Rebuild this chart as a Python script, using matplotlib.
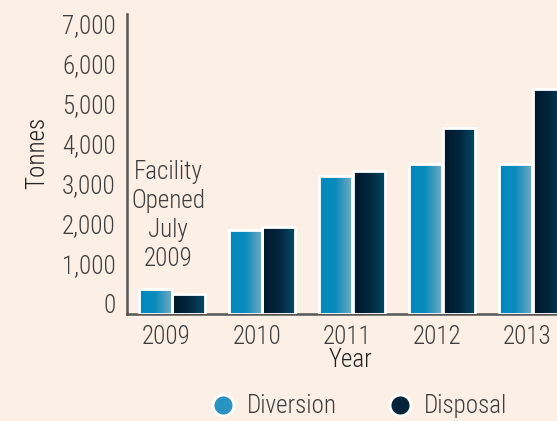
import numpy as np
import matplotlib
matplotlib.use('Agg')
import matplotlib.pyplot as plt
from matplotlib.lines import Line2D

# data
years = ['2009', '2010', '2011', '2012', '2013']
diversion = [350, 1840, 3200, 3480, 3500]
disposal = [230, 1910, 3320, 4400, 5370]
y_ticks = [0, 1000, 2000, 3000, 4000, 5000, 6000, 7000]
series = ['Diversion', 'Disposal']

bg = '#fcefe6'
txt = '#3d3d3d'
plt.rcParams['font.family'] = ['Roboto Condensed', 'DejaVu Sans']
plt.rcParams['font.weight'] = 'light'

fig = plt.figure(figsize=(5.57, 4.21), dpi=100, facecolor=bg)
ax = fig.add_axes([0.228, 0.254, 0.889, 0.713], facecolor=bg)

ymin, ymax = -268, 7250
x = np.arange(len(years))
w = 0.36

div_grad = matplotlib.colors.LinearSegmentedColormap.from_list('div', ['#0088bc', '#0a8cbd', '#74a9c3'])
disp_grad = matplotlib.colors.LinearSegmentedColormap.from_list('disp', ['#001628', '#02263d', '#034a66'])
grad = np.linspace(0, 1, 256).reshape(1, -1)

def gradient_bars(xpos, vals, cmap):
    bars = ax.bar(xpos, np.array(vals) - ymin, w, bottom=ymin, facecolor='none',
                  edgecolor='white', linewidth=2, zorder=3)
    for b in bars:
        x0, y0 = b.get_x(), b.get_y()
        im = ax.imshow(grad, cmap=cmap, aspect='auto', zorder=2,
                       extent=[x0, x0 + b.get_width(), y0, y0 + b.get_height()])
        im.set_clip_path(b)
    return bars

gradient_bars(x - 0.185, diversion, div_grad)
gradient_bars(x + 0.185, disposal, disp_grad)

ax.set_xlim(-0.5, 5.0)
ax.set_ylim(ymin, ymax)
ax.set_yticks(y_ticks)
ax.set_yticklabels([f'{v:,}' for v in y_ticks])
ax.set_xticks(x - 0.06)
ax.set_xticklabels(years)
ax.tick_params(length=0, labelsize=18, colors=txt, pad=8)
ax.tick_params(axis='x', pad=8)

for s in ['top', 'right']:
    ax.spines[s].set_visible(False)
for s in ['left', 'bottom']:
    ax.spines[s].set_color('#555555')
    ax.spines[s].set_linewidth(1.8)

# axis titles
fig.text(37 / 557, 1 - 153 / 421, 'Tonnes', rotation=90, ha='center', va='center',
         fontsize=18, color='#222222')
fig.text(350 / 557, 1 - 360 / 421, 'Year', ha='center', va='center',
         fontsize=18, color='#222222')

ax.text(-0.04, 2200, 'Facility\nOpened\nJuly\n2009', ha='center', va='center',
        fontsize=18, color=txt, linespacing=1.26)

# legend, drawn by hand
for name, face, cx in zip(series, ['#2a93c2', '#03243a'], [223, 400]):
    fig.add_artist(Line2D([cx / 557], [0.038], transform=fig.transFigure, marker='o',
                          markersize=15, markerfacecolor=face, markeredgecolor='white',
                          markeredgewidth=2, linestyle='none'))
    fig.text((cx + 24) / 557, 0.036, name, ha='left', va='center', fontsize=18, color=txt)

fig.savefig('out.png', dpi=100, facecolor=bg)
